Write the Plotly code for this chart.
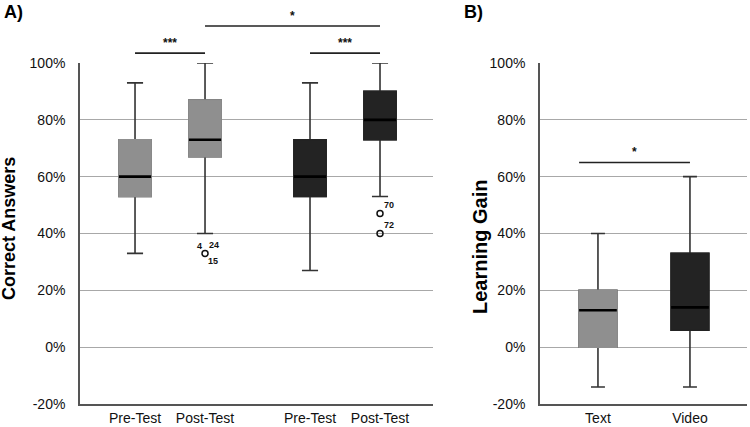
import plotly.graph_objects as go

# ---------------- data ----------------
# Panel A: correct answers
cats_a = ["Pre-Test", "Post-Test", "Pre-Test", "Post-Test"]
pos_a = [1.0, 2.0, 3.5, 4.5]
lower_a = [0.33, 0.40, 0.27, 0.53]
q1_a = [0.53, 0.67, 0.53, 0.73]
med_a = [0.60, 0.73, 0.60, 0.80]
q3_a = [0.73, 0.87, 0.73, 0.90]
upper_a = [0.93, 1.00, 0.93, 1.00]

# outliers in panel A
out_pos = [2.0, 4.5, 4.5]
out_val = [0.33, 0.47, 0.40]
out_ids = [["4", "24", "15"], ["70"], ["72"]]

# Panel B: learning gain
cats_b = ["Text", "Video"]
pos_b = [0.0, 1.0]
lower_b = [-0.14, -0.14]
q1_b = [0.00, 0.06]
med_b = [0.13, 0.14]
q3_b = [0.20, 0.33]
upper_b = [0.40, 0.60]

# y tick labels
y_ticks = [-0.2, 0.0, 0.2, 0.4, 0.6, 0.8, 1.0]
y_tick_labels = ["-20%", "0%", "20%", "40%", "60%", "80%", "100%"]

# significance brackets (pairs of positions, label)
sig_a = [(pos_a[0], pos_a[1], "***", 1.029), (pos_a[2], pos_a[3], "***", 1.029),
         (pos_a[1], pos_a[3], "*", 1.1085)]
sig_b = [(pos_b[0], pos_b[1], "*", 0.65)]

# ---------------- style ----------------
LIGHT = "#8f8f8f"
DARK = "#232323"
WHISK = "#333333"
FONT = "Liberation Sans, Arial, sans-serif"
fills_a = [LIGHT, LIGHT, DARK, DARK]
fills_b = [LIGHT, DARK]
W_A = 0.46
W_B = 0.41

fig = go.Figure()


def add_boxes(pos, lo, q1, med, q3, hi, fills, width, ww, xa, ya):
    for p, l, a, m, b, h, f in zip(pos, lo, q1, med, q3, hi, fills):
        # whiskers + caps
        fig.add_trace(go.Box(x=[p], q1=[a], median=[m], q3=[b], lowerfence=[l], upperfence=[h],
                             width=width, whiskerwidth=ww, fillcolor=f,
                             line=dict(color=WHISK, width=1.6), boxpoints=False,
                             hoverinfo="skip", showlegend=False, xaxis=xa, yaxis=ya))
        # body without dark outline
        fig.add_trace(go.Box(x=[p], q1=[a], median=[m], q3=[b], lowerfence=[a], upperfence=[b],
                             width=width, whiskerwidth=0, fillcolor=f,
                             line=dict(color=f, width=1.6), boxpoints=False,
                             hoverinfo="skip", showlegend=False, xaxis=xa, yaxis=ya))
        # median line
        fig.add_trace(go.Scatter(x=[p - width / 2, p + width / 2], y=[m, m], mode="lines",
                                 line=dict(color="#000000", width=2.6), hoverinfo="skip",
                                 showlegend=False, xaxis=xa, yaxis=ya))


add_boxes(pos_a, lower_a, q1_a, med_a, q3_a, upper_a, fills_a, W_A, 0.5, "x", "y")
add_boxes(pos_b, lower_b, q1_b, med_b, q3_b, upper_b, fills_b, W_B, 0.37, "x2", "y2")

# outliers
fig.add_trace(go.Scatter(x=out_pos, y=out_val, mode="markers",
                         marker=dict(symbol="circle-open", size=6, color="#111111",
                                     line=dict(width=1.5, color="#111111")),
                         hoverinfo="skip", showlegend=False, xaxis="x", yaxis="y"))

annotations = []
offsets_multi = [[(-6, 7), (8.5, 8), (8, -8)], [(9, 8.5)], [(9, 8.5)]]
for p, v, ids, offs in zip(out_pos, out_val, out_ids, offsets_multi):
    for t, (dx, dy) in zip(ids, offs):
        annotations.append(dict(x=p, y=v, xref="x", yref="y", text=t, showarrow=False,
                                xshift=dx, yshift=dy,
                                font=dict(family=FONT, size=9, color="#111111", weight="bold")))

shapes = []
for x0, x1, lab, yy in sig_a:
    shapes.append(dict(type="line", xref="x", yref="y domain", x0=x0, x1=x1, y0=yy, y1=yy,
                       line=dict(color="#222222", width=1.6)))
    annotations.append(dict(x=(x0 + x1) / 2, y=yy, xref="x", yref="y domain", text=lab,
                            showarrow=False, yanchor="bottom", yshift=1,
                            font=dict(family=FONT, size=12, color="#111111", weight="bold")))
for x0, x1, lab, yy in sig_b:
    x0 = x0 - W_B / 2
    shapes.append(dict(type="line", xref="x2", yref="y2", x0=x0, x1=x1, y0=yy, y1=yy,
                       line=dict(color="#222222", width=1.6)))
    annotations.append(dict(x=(x0 + x1) / 2, y=yy, xref="x2", yref="y2", text=lab,
                            showarrow=False, yanchor="bottom", yshift=1,
                            font=dict(family=FONT, size=12, color="#111111", weight="bold")))

# titles and panel labels
annotations += [
    dict(x=9 / 750, y=1 - 229 / 427, xref="paper", yref="paper", text="Correct Answers",
         textangle=-90, showarrow=False, xanchor="center", yanchor="middle",
         font=dict(family=FONT, size=18, color="#000000", weight="bold")),
    dict(x=480 / 750, y=1 - 247 / 427, xref="paper", yref="paper", text="Learning Gain",
         textangle=-90, showarrow=False, xanchor="center", yanchor="middle",
         font=dict(family=FONT, size=20, color="#000000", weight="bold")),
    dict(x=2 / 750, y=1 - 12 / 427, xref="paper", yref="paper", text="A)",
         showarrow=False, xanchor="left", yanchor="middle",
         font=dict(family=FONT, size=18, color="#000000", weight="bold")),
    dict(x=462 / 750, y=1 - 12 / 427, xref="paper", yref="paper", text="B)",
         showarrow=False, xanchor="left", yanchor="middle",
         font=dict(family=FONT, size=18, color="#000000", weight="bold")),
]

yaxis_common = dict(range=[-0.2, 1.0], tickvals=y_ticks, ticktext=y_tick_labels,
                     showgrid=True, gridcolor="#a8a8a8", gridwidth=1, automargin=False,
                     showline=True, linecolor="#555555", linewidth=1.6, zeroline=False,
                     ticks="", ticklabelstandoff=10,
                     tickfont=dict(family=FONT, size=14, color="#111111"),
                     domain=[1 - 404 / 427, 1 - 63 / 427])
xaxis_common = dict(showgrid=False, zeroline=False, showline=True, linecolor="#555555",
                    linewidth=1.6, ticks="", automargin=False,
                    tickfont=dict(family=FONT, size=14, color="#111111"))

fig.update_layout(
    width=750, height=427, autosize=False,
    margin=dict(l=0, r=0, t=0, b=0, pad=0, autoexpand=False),
    paper_bgcolor="white", plot_bgcolor="white", boxmode="overlay",
    xaxis=dict(xaxis_common, domain=[80 / 750, 433 / 750], range=[0.214, 5.257],
               tickvals=pos_a, ticktext=cats_a, anchor="y"),
    yaxis=dict(yaxis_common, anchor="x"),
    xaxis2=dict(xaxis_common, domain=[540 / 750, 747 / 750], range=[-0.63, 1.62],
                tickvals=pos_b, ticktext=cats_b, anchor="y2"),
    yaxis2=dict(yaxis_common, anchor="x2"),
    shapes=shapes, annotations=annotations, showlegend=False,
)

fig.write_html("out.html", config={"displayModeBar": False, "responsive": False})

# remove default page margins so the figure sits at the window origin
with open("out.html", "r", encoding="utf-8") as fh:
    html = fh.read()
html = html.replace("<head>", "<head><style>html,body{margin:0;padding:0;overflow:hidden;}</style>", 1)
with open("out.html", "w", encoding="utf-8") as fh:
    fh.write(html)
